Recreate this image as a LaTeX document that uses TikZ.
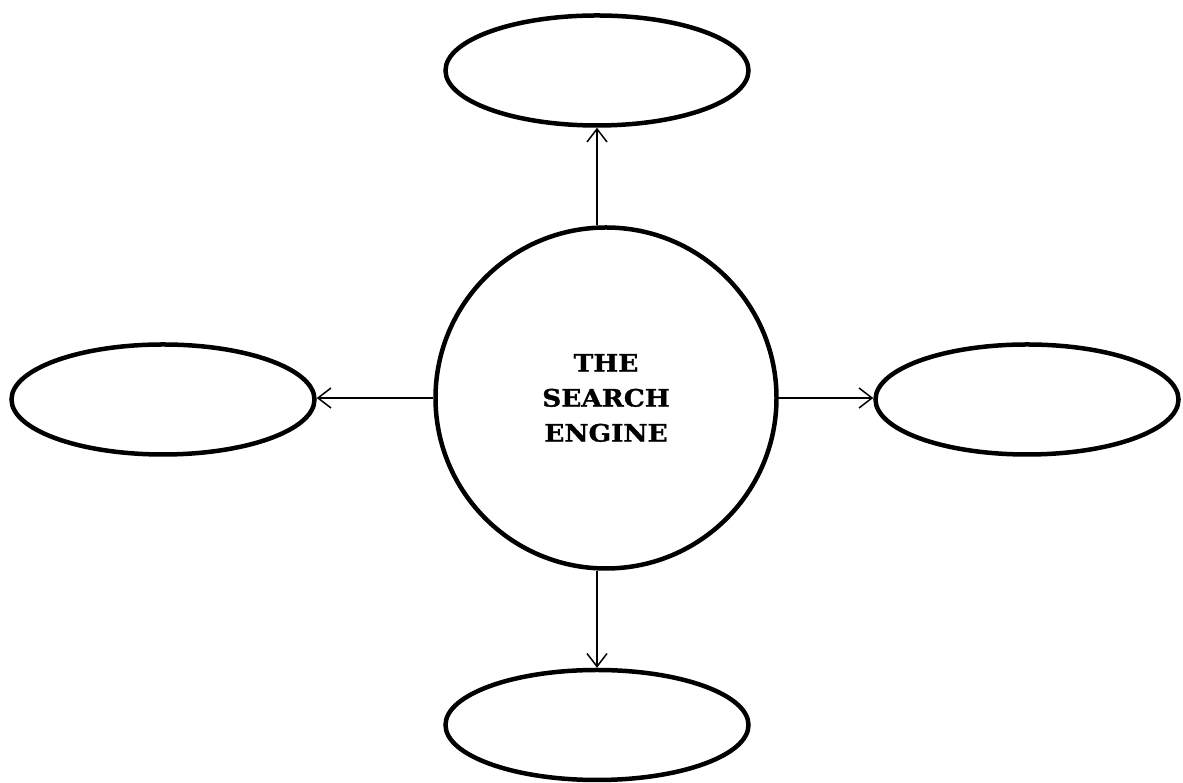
\documentclass[tikz,border=0pt]{standalone}
\usepackage{fontspec}
\newfontfamily\hubfont[FakeStretch=1.1,BoldFeatures={FakeBold=1.2}]{DejaVu Serif}
\usetikzlibrary{shapes.geometric,arrows.meta}
\begin{document}
\begin{tikzpicture}[x=1pt,y=1pt,
  hub/.style={circle,draw,line width=4.5pt,inner sep=0pt,minimum size=341pt,
    align=center,font=\hubfont\bfseries\fontsize{24}{35}\selectfont},
  leaf/.style={ellipse,draw,line width=4.5pt,inner sep=0pt,minimum width=303pt,minimum height=110pt},
  arr/.style={line width=1.5pt,-{Straight Barb[length=13pt,width=20pt,line width=1.5pt]}}]
\useasboundingbox (0,0) rectangle (1183,783);
\node[hub] (c) at (606,385) {THE\\SEARCH\\ENGINE};
\node[leaf] (t) at (597,712.5) {};
\node[leaf] (b) at (597,58) {};
\node[leaf] (l) at (163,383.5) {};
\node[leaf] (r) at (1027,383.5) {};
\draw[arr] (c.north -| t.south) -- (t.south);
\draw[arr] (c.south -| b.north) -- (b.north);
\draw[arr] (c.west) -- (c.west -| l.east);
\draw[arr] (c.east) -- (c.east -| r.west);
\end{tikzpicture}
\end{document}
